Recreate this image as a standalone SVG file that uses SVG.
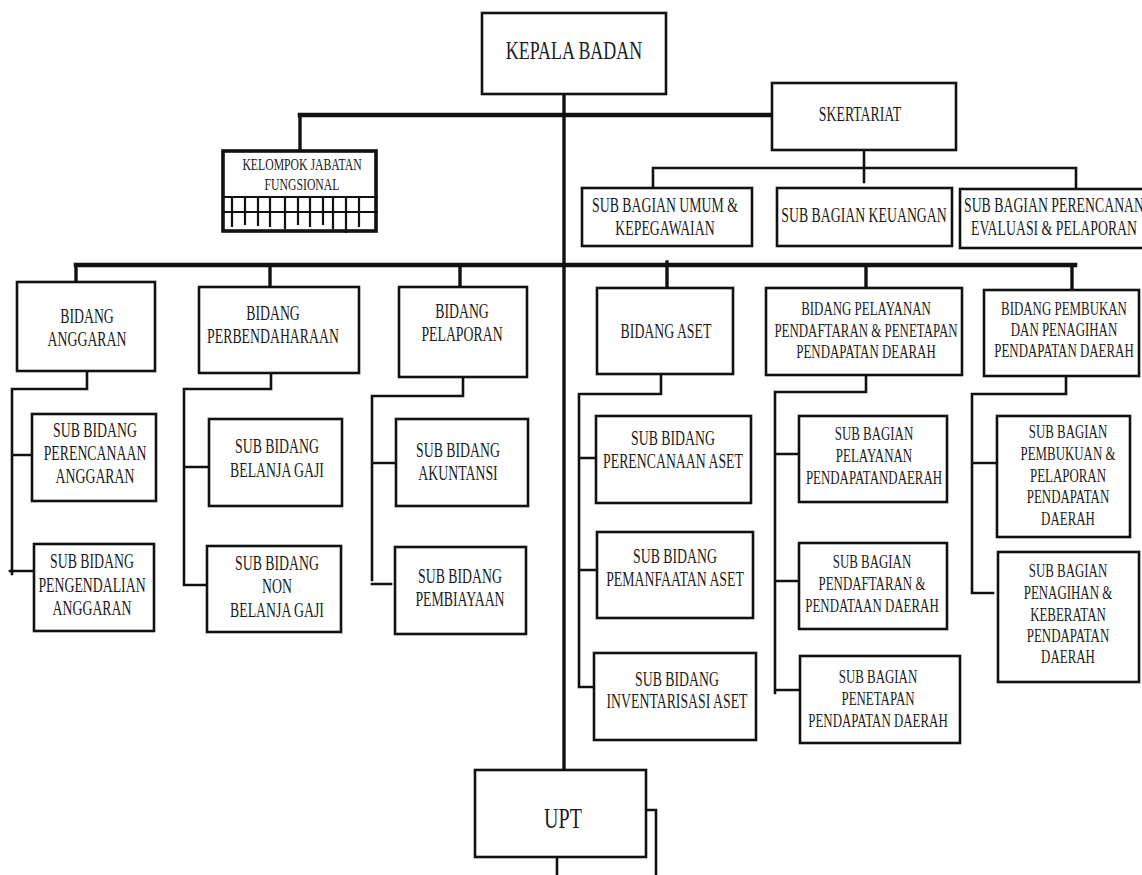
<svg xmlns="http://www.w3.org/2000/svg" width="1142" height="875" viewBox="0 0 1142 875">
<style>
.bg{fill:#fff}
.box{fill:#fff;stroke:#111;stroke-width:2.6}
.thick{stroke-width:3.6}
.t{font-family:"Liberation Serif","Times New Roman",serif;font-size:20px;text-anchor:middle;fill:#1c1c1c}
.s19{font-size:19px}
.ln{fill:none;stroke:#111;stroke-width:2.6;stroke-linecap:square}
.mid{stroke-width:3.4}
.bus{stroke-width:4.6}
.grid{fill:none;stroke:#111;stroke-width:2.2}
</style>
<rect class="bg" x="0" y="0" width="1142" height="875"/>
<g id="connectors">
<path class="ln mid" d="M564,94 V770"/>
<path class="ln bus" d="M300,115 H772"/>
<path class="ln mid" d="M300,115 V151"/>
<path class="ln" d="M864,150 V182 M653,168 H1076 M653,168 V188 M1076,168 V189"/>
<path class="ln bus" d="M76,265 H1075"/>
<path class="ln mid" d="M76,265 V282 M270,265 V287 M460,265 V287 M667,262 V288 M866,265 V288 M1072,265 V290"/>
<path class="ln" d="M87,371 V389 H12 V574 M12,455 H33 M10,571 H34"/>
<path class="ln" d="M271,373 V389 H184 V585 H207 M184,467 H209"/>
<path class="ln" d="M463,377 V396 H372 V580 M372,463 H396 M372,584 H391"/>
<path class="ln" d="M661,374 V394 H579 V687 H594 M579,458 H596 M579,570 H597"/>
<path class="ln" d="M866,375 V392 H775 V693 M775,454 H799 M775,581 H799 M775,690 H799"/>
<path class="ln" d="M1066,376 V394 H972 V592 M972,463 H997 M972,593 H993"/>
<path class="ln" d="M646,810 H656 V875 M557,857 V875"/>
</g>
<g id="kepala">
<rect class="box" x="482" y="13" width="184" height="81"/>
<text class="t" style="font-size:26px" transform="translate(574 0) scale(0.69 1)" x="0" y="59">KEPALA BADAN</text>
</g>
<g id="skertariat">
<rect class="box" x="772" y="83" width="184" height="67"/>
<text class="t" transform="translate(860 0) scale(0.69 1)" x="0" y="121">SKERTARIAT</text>
</g>
<g id="kelompok">
<rect class="box thick" x="223" y="151" width="153" height="80"/>
<text class="t" style="font-size:17px" transform="translate(302 0) scale(0.69 1)" x="0" y="170">KELOMPOK JABATAN</text>
<text class="t" style="font-size:17px" transform="translate(302 0) scale(0.69 1)" x="0" y="190">FUNGSIONAL</text>
<path class="grid" d="M223,197 H378 M223,212 H378 M232,196 V227 M245,196 V225 M258,196 V226 M270,196 V227 M285,196 V229 M298,196 V225 M310,197 V227 M323,197 V225 M333,197 V229 M346,197 V233 M359,197 V227"/>
</g>
<g id="sb-umum">
<rect class="box" x="582" y="188" width="170" height="58"/>
<text class="t" transform="translate(665 0) scale(0.69 1)" x="0" y="212">SUB BAGIAN UMUM &amp;</text>
<text class="t" transform="translate(665 0) scale(0.69 1)" x="0" y="235">KEPEGAWAIAN</text>
</g>
<g id="sb-keuangan">
<rect class="box" x="777" y="188" width="175" height="58"/>
<text class="t" transform="translate(864 0) scale(0.69 1)" x="0" y="222">SUB BAGIAN KEUANGAN</text>
</g>
<g id="sb-perencanan">
<rect class="box" x="960" y="189" width="185" height="59"/>
<text class="t" transform="translate(1054 0) scale(0.69 1)" x="0" y="212">SUB BAGIAN PERENCANAN</text>
<text class="t" transform="translate(1054 0) scale(0.69 1)" x="0" y="235">EVALUASI &amp; PELAPORAN</text>
</g>
<g id="bidang-anggaran">
<rect class="box" x="17" y="282" width="138" height="89"/>
<text class="t" transform="translate(87 0) scale(0.69 1)" x="0" y="323">BIDANG</text>
<text class="t" transform="translate(87 0) scale(0.69 1)" x="0" y="346">ANGGARAN</text>
</g>
<g id="bidang-perbendaharaan">
<rect class="box" x="199" y="287" width="160" height="86"/>
<text class="t" transform="translate(273 0) scale(0.69 1)" x="0" y="320">BIDANG</text>
<text class="t" transform="translate(273 0) scale(0.69 1)" x="0" y="343">PERBENDAHARAAN</text>
</g>
<g id="bidang-pelaporan">
<rect class="box" x="399" y="287" width="128" height="90"/>
<text class="t" transform="translate(462 0) scale(0.69 1)" x="0" y="318">BIDANG</text>
<text class="t" transform="translate(462 0) scale(0.69 1)" x="0" y="341">PELAPORAN</text>
</g>
<g id="bidang-aset">
<rect class="box" x="597" y="288" width="136" height="86"/>
<text class="t" transform="translate(666 0) scale(0.69 1)" x="0" y="338">BIDANG ASET</text>
</g>
<g id="bidang-pelayanan">
<rect class="box" x="766" y="288" width="196" height="87"/>
<text class="t s19" transform="translate(866 0) scale(0.68 1)" x="0" y="315">BIDANG PELAYANAN</text>
<text class="t s19" transform="translate(866 0) scale(0.68 1)" x="0" y="337">PENDAFTARAN &amp; PENETAPAN</text>
<text class="t s19" transform="translate(866 0) scale(0.68 1)" x="0" y="358">PENDAPATAN DEARAH</text>
</g>
<g id="bidang-pembukan">
<rect class="box" x="984" y="290" width="155" height="86"/>
<text class="t s19" transform="translate(1064 0) scale(0.68 1)" x="0" y="315">BIDANG PEMBUKAN</text>
<text class="t s19" transform="translate(1064 0) scale(0.68 1)" x="0" y="336">DAN PENAGIHAN</text>
<text class="t s19" transform="translate(1064 0) scale(0.68 1)" x="0" y="357">PENDAPATAN DAERAH</text>
</g>
<g id="sb-perencanaan-anggaran">
<rect class="box" x="32" y="414" width="124" height="87"/>
<text class="t" transform="translate(95 0) scale(0.69 1)" x="0" y="437">SUB BIDANG</text>
<text class="t" transform="translate(95 0) scale(0.69 1)" x="0" y="460">PERENCANAAN</text>
<text class="t" transform="translate(95 0) scale(0.69 1)" x="0" y="483">ANGGARAN</text>
</g>
<g id="sb-pengendalian-anggaran">
<rect class="box" x="34" y="544" width="120" height="87"/>
<text class="t" transform="translate(92 0) scale(0.69 1)" x="0" y="568">SUB BIDANG</text>
<text class="t" transform="translate(92 0) scale(0.69 1)" x="0" y="592">PENGENDALIAN</text>
<text class="t" transform="translate(92 0) scale(0.69 1)" x="0" y="615">ANGGARAN</text>
</g>
<g id="sb-belanja-gaji">
<rect class="box" x="209" y="419" width="133" height="87"/>
<text class="t" transform="translate(277 0) scale(0.69 1)" x="0" y="453">SUB BIDANG</text>
<text class="t" transform="translate(277 0) scale(0.69 1)" x="0" y="477">BELANJA GAJI</text>
</g>
<g id="sb-non-belanja-gaji">
<rect class="box" x="207" y="546" width="134" height="86"/>
<text class="t" transform="translate(277 0) scale(0.69 1)" x="0" y="570">SUB BIDANG</text>
<text class="t" transform="translate(277 0) scale(0.69 1)" x="0" y="593">NON</text>
<text class="t" transform="translate(277 0) scale(0.69 1)" x="0" y="617">BELANJA GAJI</text>
</g>
<g id="sb-akuntansi">
<rect class="box" x="396" y="419" width="132" height="87"/>
<text class="t" transform="translate(458 0) scale(0.69 1)" x="0" y="457">SUB BIDANG</text>
<text class="t" transform="translate(458 0) scale(0.69 1)" x="0" y="480">AKUNTANSI</text>
</g>
<g id="sb-pembiayaan">
<rect class="box" x="395" y="547" width="131" height="87"/>
<text class="t" transform="translate(460 0) scale(0.69 1)" x="0" y="583">SUB BIDANG</text>
<text class="t" transform="translate(460 0) scale(0.69 1)" x="0" y="606">PEMBIAYAAN</text>
</g>
<g id="sb-perencanaan-aset">
<rect class="box" x="596" y="416" width="155" height="87"/>
<text class="t" transform="translate(673 0) scale(0.69 1)" x="0" y="445">SUB BIDANG</text>
<text class="t" transform="translate(673 0) scale(0.69 1)" x="0" y="468">PERENCANAAN ASET</text>
</g>
<g id="sb-pemanfaatan-aset">
<rect class="box" x="597" y="532" width="156" height="86"/>
<text class="t" transform="translate(675 0) scale(0.69 1)" x="0" y="563">SUB BIDANG</text>
<text class="t" transform="translate(675 0) scale(0.69 1)" x="0" y="586">PEMANFAATAN ASET</text>
</g>
<g id="sb-inventarisasi-aset">
<rect class="box" x="594" y="653" width="162" height="87"/>
<text class="t" transform="translate(677 0) scale(0.69 1)" x="0" y="686">SUB BIDANG</text>
<text class="t" transform="translate(677 0) scale(0.69 1)" x="0" y="708">INVENTARISASI ASET</text>
</g>
<g id="sbg-pelayanan">
<rect class="box" x="799" y="416" width="148" height="86"/>
<text class="t s19" transform="translate(874 0) scale(0.68 1)" x="0" y="440">SUB BAGIAN</text>
<text class="t s19" transform="translate(874 0) scale(0.68 1)" x="0" y="462">PELAYANAN</text>
<text class="t s19" transform="translate(874 0) scale(0.68 1)" x="0" y="484">PENDAPATANDAERAH</text>
</g>
<g id="sbg-pendaftaran">
<rect class="box" x="799" y="543" width="148" height="86"/>
<text class="t s19" transform="translate(872 0) scale(0.68 1)" x="0" y="568">SUB BAGIAN</text>
<text class="t s19" transform="translate(872 0) scale(0.68 1)" x="0" y="590">PENDAFTARAN &amp;</text>
<text class="t s19" transform="translate(872 0) scale(0.68 1)" x="0" y="612">PENDATAAN DAERAH</text>
</g>
<g id="sbg-penetapan">
<rect class="box" x="800" y="656" width="160" height="87"/>
<text class="t s19" transform="translate(878 0) scale(0.68 1)" x="0" y="683">SUB BAGIAN</text>
<text class="t s19" transform="translate(878 0) scale(0.68 1)" x="0" y="705">PENETAPAN</text>
<text class="t s19" transform="translate(878 0) scale(0.68 1)" x="0" y="727">PENDAPATAN DAERAH</text>
</g>
<g id="sbg-pembukuan">
<rect class="box" x="997" y="416" width="133" height="121"/>
<text class="t s19" transform="translate(1068 0) scale(0.68 1)" x="0" y="438">SUB BAGIAN</text>
<text class="t s19" transform="translate(1068 0) scale(0.68 1)" x="0" y="460">PEMBUKUAN &amp;</text>
<text class="t s19" transform="translate(1068 0) scale(0.68 1)" x="0" y="482">PELAPORAN</text>
<text class="t s19" transform="translate(1068 0) scale(0.68 1)" x="0" y="503">PENDAPATAN</text>
<text class="t s19" transform="translate(1068 0) scale(0.68 1)" x="0" y="525">DAERAH</text>
</g>
<g id="sbg-penagihan">
<rect class="box" x="998" y="552" width="141" height="130"/>
<text class="t s19" transform="translate(1068 0) scale(0.68 1)" x="0" y="577">SUB BAGIAN</text>
<text class="t s19" transform="translate(1068 0) scale(0.68 1)" x="0" y="599">PENAGIHAN &amp;</text>
<text class="t s19" transform="translate(1068 0) scale(0.68 1)" x="0" y="621">KEBERATAN</text>
<text class="t s19" transform="translate(1068 0) scale(0.68 1)" x="0" y="642">PENDAPATAN</text>
<text class="t s19" transform="translate(1068 0) scale(0.68 1)" x="0" y="663">DAERAH</text>
</g>
<g id="upt">
<rect class="box" x="475" y="770" width="171" height="87"/>
<text class="t" style="font-size:29px" transform="translate(563 0) scale(0.69 1)" x="0" y="828">UPT</text>
</g>
</svg>
